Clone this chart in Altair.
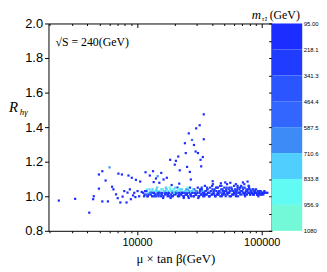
import altair as alt
import pandas as pd

# ---------------- data ----------------
sparse_x = [2360, 3190, 4140, 4450, 4500, 4950, 4950, 5270, 5270, 5600,
            5840, 6020, 6310, 6470, 6790, 7000, 7090, 7350, 7570, 7660,
            7900, 8240, 8390, 8540, 8760, 8920, 9080, 9300, 9500, 9700,
            9800, 10100, 10400, 10600, 10900,
            11700, 12660, 13440, 13600, 14190, 14640, 15100, 15650, 16320, 17340,
            18430, 18960, 20080, 20500, 21400, 21800, 22000, 24200, 24600, 25200,
            26000, 26500, 27000, 27600, 28600, 29500, 29800, 30800, 31800, 32300,
            32700, 33700, 34300, 34300, 40400, 51000, 47000, 56000, 62000, 77000]
sparse_y = [0.975, 0.985, 0.905, 0.983, 1.000, 1.044, 1.126, 1.145, 0.970, 1.091,
            0.970, 1.167, 1.055, 1.040, 1.011, 0.989, 1.131, 0.964, 1.126, 0.998,
            1.030, 0.964, 1.021, 1.120, 1.040, 0.983, 1.107, 1.005, 1.020, 0.995,
            1.095, 1.030, 1.000, 1.085, 1.025,
            1.139, 1.120, 1.145, 1.082, 1.103, 1.116, 1.078, 1.135, 1.097, 1.107,
            1.211, 1.065, 1.183, 1.205, 1.230, 1.073, 1.150, 1.307, 1.250, 1.170,
            1.364, 1.141, 1.097, 1.326, 1.297, 1.259, 1.393, 1.250, 1.411, 1.211,
            1.173, 1.227, 1.330, 1.474, 1.087, 1.080, 1.075, 1.078, 1.070, 1.085]
sparse_m = [120, 150, 200, 130, 180, 140, 160, 110, 190, 130,
            150, 620, 170, 140, 200, 160, 150, 130, 180, 140,
            120, 170, 150, 130, 190, 160, 140, 120, 170, 130,
            150, 160, 140, 180, 130,
            150, 170, 130, 200, 140, 600, 160, 190, 130, 150,
            140, 180, 160, 130, 170, 150, 140, 190, 160, 130,
            170, 150, 140, 500, 160, 180, 140, 160, 130, 150,
            190, 140, 170, 160, 150, 180, 140, 160, 150, 170]

band_a_x = [11200, 11500, 11800, 12100, 12300, 12600, 12900, 13100, 13400, 13600,
            13800, 14100, 14300, 14600, 14900, 15100, 15400, 15700, 15900, 16200,
            16500, 16800, 17000, 17300, 17600, 17900, 18100, 18500, 18800, 19100,
            19400, 19800, 20100, 20400, 20700, 21100, 21500, 21800, 22200, 22500,
            22900, 23300, 23700, 24100, 24500, 24900, 25300, 25700, 26100, 26600,
            27000, 27500, 27900, 28400, 28800, 29300, 29800, 30200, 30700, 31200,
            31700, 32300, 32800, 33400, 33900, 34500, 35000, 35600, 36200, 36800,
            37400, 38000, 38600, 39300, 39900, 40600, 41200, 41900, 42600, 43300,
            44000, 44800, 45500, 46300, 47000, 47800, 48500, 49400, 50100, 51000,
            51800, 52700, 53500, 54400, 55300, 56300, 57100, 58100, 59000, 60100,
            61000, 62100, 63000, 64100, 65100, 66200, 67200, 68400, 69500, 70700,
            71800, 73000, 74100, 75400, 76600, 77900, 79100, 80500, 81700, 83100,
            84400, 85900, 87200, 88700, 90100, 91700, 93100, 94700, 96200, 97900,
            99400, 101000, 103000, 105000, 108000, 111000, 12000, 14500, 16000, 18300]
band_a_y = [1.02, 1.01, 1.03, 1.00, 1.02, 1.04, 1.01, 1.03, 1.02, 1.00,
            1.03, 1.01, 1.04, 1.02, 1.00, 1.03, 1.01, 1.04, 1.02, 0.99,
            1.03, 1.01, 1.05, 1.02, 1.00, 1.03, 1.02, 1.04, 1.01, 1.03,
            1.00, 1.04, 1.02, 1.01, 1.03, 1.05, 1.02, 1.00, 1.03, 1.01,
            1.04, 1.02, 0.99, 1.03, 1.01, 1.04, 1.02, 1.00, 1.03, 1.05,
            1.01, 1.03, 1.02, 1.00, 1.04, 1.02, 1.01, 1.03, 1.05, 1.00,
            1.02, 1.04, 1.01, 1.03, 1.00, 1.02, 1.06, 1.03, 1.01, 1.04,
            1.02, 1.00, 1.05, 1.03, 1.01, 1.07, 1.02, 1.04, 1.00, 1.03,
            1.05, 1.01, 1.03, 1.06, 1.02, 1.00, 1.04, 1.02, 1.05, 1.01,
            1.03, 1.07, 1.02, 1.04, 1.00, 1.03, 1.05, 1.01, 1.03, 1.02,
            1.04, 1.00, 1.03, 1.05, 1.02, 1.04, 1.01, 1.06, 1.03, 1.08,
            1.02, 1.05, 1.01, 1.04, 1.03, 1.02, 1.05, 1.01, 1.03, 1.02,
            1.04, 1.01, 1.03, 1.02, 1.04, 1.01, 1.03, 1.02, 1.01, 1.03,
            1.02, 1.02, 1.01, 1.03, 1.02, 1.02, 1.04, 1.05, 1.04, 1.05]
band_a_m = [150, 220, 800, 130, 900, 750, 180, 850, 260, 140,
            950, 200, 820, 300, 160, 880, 240, 760, 120, 170,
            900, 210, 780, 330, 150, 860, 270, 940, 190, 720,
            140, 800, 260, 220, 870, 180, 310, 130, 920, 240,
            770, 350, 160, 840, 200, 690, 280, 150, 810, 230,
            190, 900, 310, 140, 260, 620, 210, 880, 180, 160,
            240, 300, 190, 740, 150, 330, 210, 280, 170, 250,
            200, 150, 260, 340, 180, 230, 560, 290, 140, 210,
            250, 170, 320, 220, 480, 160, 290, 200, 230, 180,
            310, 210, 150, 260, 190, 540, 230, 170, 280, 200,
            240, 160, 310, 180, 220, 280, 450, 200, 260, 190,
            150, 230, 520, 280, 170, 330, 210, 190, 240, 160,
            200, 260, 150, 310, 180, 220, 270, 160, 240, 190,
            210, 170, 250, 190, 230, 200, 900, 760, 830, 870]

band_b_x = [11400, 11900, 12400, 12800, 13200, 13700, 14200, 14700, 15200, 15800,
            16300, 16900, 17500, 18000, 18600, 19200, 19900, 20600, 21300, 22000,
            22700, 23500, 24300, 25100, 26000, 26800, 27700, 28600, 29500, 30500,
            31500, 32500, 33600, 34700, 35900, 37100, 38300, 39600, 40900, 42300,
            43700, 45100, 46600, 48200, 49800, 51400, 53100, 54900, 56700, 58600,
            60500, 62500, 64600, 66700, 68900, 71200, 73600, 76000, 78500, 81100,
            83800, 86600, 89400, 92400, 95400, 98600, 102000, 106000, 25500, 30000,
            36500, 44500, 52000, 60000, 67000, 72500, 78000, 86000, 20300, 17200]
band_b_y = [1.00, 1.03, 1.01, 1.02, 1.00, 1.02, 1.00, 1.01, 1.02, 1.01,
            1.00, 1.02, 1.01, 1.02, 0.99, 1.02, 1.01, 1.02, 1.00, 1.02,
            1.01, 1.00, 1.02, 1.01, 0.99, 1.01, 1.02, 1.00, 1.01, 1.02,
            1.00, 1.01, 1.02, 1.00, 1.01, 1.02, 1.00, 1.01, 1.02, 1.00,
            1.01, 1.02, 1.00, 1.01, 1.02, 1.00, 1.01, 1.02, 1.00, 1.01,
            1.02, 1.01, 1.00, 1.02, 1.01, 1.02, 1.00, 1.01, 1.02, 1.01,
            1.02, 1.01, 1.02, 1.01, 1.02, 1.01, 1.02, 1.02, 1.04, 1.03,
            1.04, 1.05, 1.04, 1.06, 1.05, 1.07, 1.06, 1.04, 1.05, 1.04]
band_b_m = [130, 240, 170, 210, 150, 190, 120, 260, 180, 140,
            200, 160, 230, 150, 180, 270, 140, 210, 170, 250,
            190, 150, 220, 280, 160, 240, 130, 200, 250, 170,
            210, 180, 150, 230, 190, 160, 270, 140, 220, 180,
            150, 240, 170, 200, 130, 260, 180, 210, 160, 230,
            190, 140, 250, 170, 220, 150, 200, 180, 240, 160,
            210, 170, 190, 230, 150, 200, 180, 220, 700, 240,
            280, 300, 220, 260, 190, 240, 600, 270, 780, 720]

band_c_x = [11600, 12200, 12700, 13300, 13900, 14400, 15000, 15600, 16100, 16700,
            17200, 17800, 18400, 19000, 19600, 20300, 20900, 21600, 22300, 23000,
            23800, 24600, 25400, 26300, 27200, 28100, 29000, 30000, 31000, 32000,
            33100, 34200, 35300, 36500, 37700, 39000, 40300, 41600, 43000, 44400,
            45900, 47400, 49000, 50600, 52300, 54000, 55800, 57700, 59600, 61600,
            63600, 65700, 67900, 70200, 72500, 74900, 77400, 80000, 82600, 85300,
            88100, 91000, 94000, 97100, 100300, 104000, 11900, 13000, 14000, 15300,
            16600, 18200, 19800, 21400, 23100, 25000, 27300, 29600, 32100, 34900,
            38000, 41300, 45000, 48800, 53000, 57500, 62500, 68000, 74000, 80300,
            87500, 95000, 33000, 40000, 47500, 55000, 64000, 71000, 79000, 92000]
band_c_y = [1.03, 1.00, 1.02, 1.04, 1.01, 1.03, 1.02, 1.00, 1.04, 1.02,
            1.04, 1.01, 1.03, 1.00, 1.04, 1.02, 1.03, 1.01, 1.04, 1.02,
            1.00, 1.03, 1.05, 1.02, 1.00, 1.04, 1.02, 1.03, 0.99, 1.03,
            1.04, 1.01, 1.03, 1.05, 1.00, 1.03, 1.04, 1.01, 1.05, 1.02,
            1.03, 1.04, 1.01, 1.03, 1.05, 1.02, 1.03, 1.04, 1.01, 1.03,
            1.04, 1.02, 1.03, 1.05, 1.01, 1.03, 1.04, 1.02, 1.03, 1.01,
            1.03, 1.02, 1.00, 1.03, 1.01, 1.02, 1.01, 1.02, 1.00, 1.01,
            1.03, 1.00, 1.02, 1.04, 1.02, 1.01, 1.03, 1.01, 1.04, 1.01,
            1.02, 1.03, 1.01, 1.03, 1.02, 1.04, 1.02, 1.03, 1.02, 1.04,
            1.02, 1.03, 1.05, 1.06, 1.06, 1.05, 1.06, 1.04, 1.06, 1.01]
band_c_m = [250, 180, 700, 820, 230, 760, 300, 150, 870, 280,
            780, 190, 850, 160, 900, 260, 730, 210, 830, 240,
            170, 770, 880, 290, 150, 810, 220, 600, 140, 260,
            310, 200, 280, 340, 170, 230, 300, 190, 260, 210,
            240, 300, 180, 270, 320, 200, 250, 290, 170, 230,
            280, 210, 250, 330, 180, 240, 300, 200, 260, 170,
            230, 200, 160, 250, 190, 210, 450, 520, 380, 560,
            820, 170, 740, 860, 200, 180, 760, 190, 280, 150,
            220, 260, 170, 240, 200, 300, 230, 250, 190, 280,
            210, 240, 330, 280, 310, 260, 290, 250, 300, 180]

cbar_ticks = [95, 218.1, 341.3, 464.4, 587.5, 710.6, 833.8, 956.9, 1080]
cbar_colors = ["#1b2dff", "#1f3cff", "#2a55ff", "#3366ff",
               "#3d8bf6", "#50cffe", "#62fbf4", "#73f9d7"]

x_ticks = [2000, 3000, 4000, 5000, 6000, 7000, 8000, 9000, 10000,
           20000, 30000, 40000, 50000, 60000, 70000, 80000, 90000, 100000]
y_ticks = [0.8, 1.0, 1.2, 1.4, 1.6, 1.8, 2.0]
y_minor = [0.8, 0.9, 1.0, 1.1, 1.2, 1.3, 1.4, 1.5, 1.6, 1.7, 1.8, 1.9, 2.0]

# ---------------- tables ----------------
df = pd.DataFrame({
    "x": sparse_x + band_a_x + band_b_x + band_c_x,
    "y": sparse_y + band_a_y + band_b_y + band_c_y,
    "m": sparse_m + band_a_m + band_b_m + band_c_m,
})
bands = pd.DataFrame({
    "lo": cbar_ticks[:-1],
    "hi": cbar_ticks[1:],
    "c": cbar_colors,
})

W, H, CW = 226, 210, 31
xscale = alt.Scale(type="log", domain=[1950, 120000], nice=False)
yscale = alt.Scale(domain=[0.8, 2.0], nice=False, zero=False)
major = "datum.value == 10000 || datum.value == 100000"

pts = alt.Chart(df).mark_square(size=5, opacity=1).encode(
    x=alt.X("x:Q", scale=xscale, axis=alt.Axis(
        orient="bottom", values=x_ticks, title=None, grid=False, domain=False,
        labelExpr=f"{major} ? format(datum.value, 'd') : ''",
        tickSize={"condition": {"test": major, "value": 4}, "value": 2},
        labelFontSize=11, labelPadding=2, labelFlush=False, labelOverlap=False)),
    y=alt.Y("y:Q", scale=yscale, axis=alt.Axis(
        orient="left", values=y_ticks, format=".1f", title=None, grid=False,
        domain=False, tickSize=4, labelFontSize=13, labelPadding=2)),
    color=alt.Color("m:Q", scale=alt.Scale(type="threshold", domain=cbar_ticks[1:-1],
                                           range=cbar_colors), legend=None),
)

inner = alt.Chart(df).mark_point(opacity=0).encode(
    x=alt.X("x:Q", scale=xscale, axis=alt.Axis(
        orient="bottom", offset=-H, values=x_ticks, labels=False, title=None,
        grid=False, domain=False,
        tickSize={"condition": {"test": major, "value": 4}, "value": 2})),
    y=alt.Y("y:Q", scale=yscale, axis=alt.Axis(
        orient="left", offset=-W, values=y_minor, labels=False, title=None,
        grid=False, domain=False, tickSize=3)),
)

serif = "Liberation Serif"


def label(text, x, y, size, italic=False, align="left"):
    return alt.Chart(pd.DataFrame({"t": [text]})).mark_text(
        font=serif, fontSize=size, fontStyle="italic" if italic else "normal",
        align=align, baseline="alphabetic", color="black"
    ).encode(x=alt.value(x), y=alt.value(y), text="t:N")


ann = label("√S = 240(GeV)", 7, 23, 12)
xt = label("μ × tan β(GeV)", 129, 243, 13, align="center")
yt1 = label("R", -40, 90, 15, italic=True)
yt2 = label("hγ", -29, 93, 9, italic=True)
ct1 = label("m", 206, -5, 13, italic=True)
ct2 = label("τ̃1", 216, -3, 7, italic=True)
ct3 = label("(GeV)", 224, -5, 12)

scatter = alt.layer(pts, inner, ann, xt, yt1, yt2, ct1, ct2, ct3).resolve_axis(
    x="independent", y="independent").properties(width=W, height=H)

cbar = alt.Chart(bands).mark_rect().encode(
    y=alt.Y("lo:Q", scale=alt.Scale(domain=[95, 1080], reverse=True, nice=False, zero=False),
            axis=alt.Axis(orient="right", values=cbar_ticks, format=".4r", ticks=False,
                          domain=False, grid=False, title=None, labelFontSize=6,
                          labelPadding=1, labelOverlap=False)),
    y2="hi:Q",
    x=alt.value(0), x2=alt.value(CW),
    color=alt.Color("c:N", scale=None),
).properties(width=CW, height=H, view=alt.ViewBackground(stroke="transparent"))

chart = alt.hconcat(scatter, cbar, spacing=0, bounds="flush").properties(
    padding={"left": 0, "top": -2, "right": 0, "bottom": 0}
).configure_view(stroke="black", strokeWidth=1).configure_axis(
    labelFont="Liberation Sans", labelColor="black", tickColor="black"
)

chart.save("out.html", embed_options={"renderer": "svg", "actions": False})
